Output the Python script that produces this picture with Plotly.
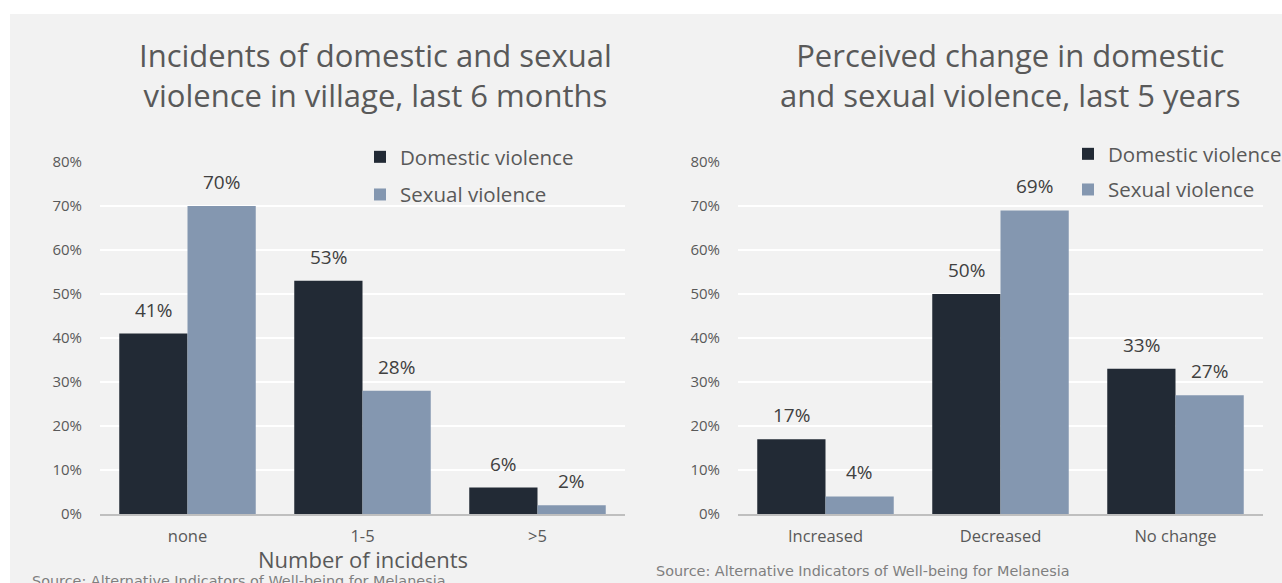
import plotly.graph_objects as go

# Data
left_categories = ["none", "1-5", ">5"]
left_domestic = [0.41, 0.53, 0.06]
left_sexual = [0.70, 0.28, 0.02]

right_categories = ["Increased", "Decreased", "No change"]
right_domestic = [0.17, 0.50, 0.33]
right_sexual = [0.04, 0.69, 0.27]

series_names = ["Domestic violence", "Sexual violence"]
colors = ["#222A35", "#8497B0"]

left_title = "Incidents of domestic and sexual<br>violence in village, last 6 months"
right_title = "Perceived change in domestic<br>and sexual violence, last 5 years"
left_xtitle = "Number of incidents"
source_text = "Source: Alternative Indicators of Well-being for Melanesia"
y_ticks = [0, 0.1, 0.2, 0.3, 0.4, 0.5, 0.6, 0.7, 0.8]

W, H = 1282, 583
FONT = "Open Sans"
TXT = "#595959"

fig = go.Figure()

def add_group(cats, dom, sex, xa, ya, legend):
    for i, (vals, name) in enumerate(zip([dom, sex], series_names)):
        fig.add_trace(go.Bar(
            x=cats, y=vals, name=name, marker_color=colors[i],
            marker_line_width=0, xaxis=xa, yaxis=ya, legend=legend,
            legendgroup=legend + str(i), showlegend=True,
            hoverinfo="skip",
        ))
        for c, v in zip(cats, vals):
            fig.add_annotation(
                x=c, y=v, xref=xa, yref=ya, text=f"{round(v*100)}%",
                showarrow=False, yanchor="bottom", yshift=9,
                xshift=(-34 if i == 0 else 34),
                font=dict(family=FONT, size=19, color="#404040"),
            )

add_group(left_categories, left_domestic, left_sexual, "x", "y", "legend")
add_group(right_categories, right_domestic, right_sexual, "x2", "y2", "legend2")

ydom = [1 - 514 / H, 1 - 162 / H]
axis_common = dict(
    range=[0, 0.8], tickvals=y_ticks, tickformat=".0%",
    showgrid=True, gridcolor="#FFFFFF", gridwidth=1.5, zeroline=False,
    tickfont=dict(family=FONT, size=15, color=TXT), ticklabelstandoff=17,
    fixedrange=True, automargin=False,
)
xaxis_common = dict(
    showline=True, linecolor="#BFBFBF", linewidth=1.5, showgrid=False,
    tickfont=dict(family=FONT, size=16.5, color=TXT), ticklabelstandoff=6,
    ticks="", automargin=False,
)

fig.update_layout(
    width=W, height=H,
    margin=dict(l=0, r=0, t=0, b=0, pad=0, autoexpand=False),
    paper_bgcolor="#FFFFFF", plot_bgcolor="rgba(0,0,0,0)",
    barmode="group", bargap=0.22, bargroupgap=0,
    xaxis=dict(domain=[100 / W, 625 / W], anchor="y", **xaxis_common),
    yaxis=dict(domain=ydom, anchor="x", **axis_common),
    xaxis2=dict(domain=[738 / W, 1263 / W], anchor="y2", **xaxis_common),
    yaxis2=dict(domain=ydom, anchor="x2", **axis_common),
    legend=dict(x=360 / W, y=1 - 137 / H, xanchor="left", yanchor="top",
                bgcolor="rgba(0,0,0,0)", traceorder="grouped", tracegroupgap=8,
                font=dict(family=FONT, size=20.5, color=TXT), itemwidth=30),
    legend2=dict(x=1068 / W, y=1 - 134 / H, xanchor="left", yanchor="top",
                 bgcolor="rgba(0,0,0,0)", traceorder="grouped", tracegroupgap=6,
                 font=dict(family=FONT, size=20.5, color=TXT), itemwidth=30),
    shapes=[dict(type="rect", xref="paper", yref="paper", x0=10 / W, x1=1,
                 y0=0, y1=1 - 14 / H, fillcolor="#F2F2F2", line_width=0, layer="below")],
)

# Axis title of the left chart
fig.add_annotation(xref="x domain", yref="paper", x=0.5, y=1 - 559 / H, text=left_xtitle,
                   showarrow=False, xanchor="center", yanchor="middle",
                   font=dict(family=FONT, size=22, color=TXT))

fig.add_annotation(xref="paper", yref="paper", x=375 / W, y=1 - 75 / H, text=left_title,
                   showarrow=False, xanchor="center", yanchor="middle",
                   font=dict(family=FONT, size=31, color=TXT), align="center")
fig.add_annotation(xref="paper", yref="paper", x=1010 / W, y=1 - 75 / H, text=right_title,
                   showarrow=False, xanchor="center", yanchor="middle",
                   font=dict(family=FONT, size=31, color=TXT), align="center")
fig.add_annotation(xref="paper", yref="paper", x=30 / W, y=1 - 581 / H, text=source_text,
                   showarrow=False, xanchor="left", yanchor="middle",
                   font=dict(family="DejaVu Sans", size=14.4, color="#7F7F7F"))
fig.add_annotation(xref="paper", yref="paper", x=654 / W, y=1 - 571 / H, text=source_text,
                   showarrow=False, xanchor="left", yanchor="middle",
                   font=dict(family="DejaVu Sans", size=14.4, color="#7F7F7F"))

fig.write_html("out.html", config={"displayModeBar": False},
               post_script="document.body.style.margin='0';document.body.style.overflow='hidden';")
